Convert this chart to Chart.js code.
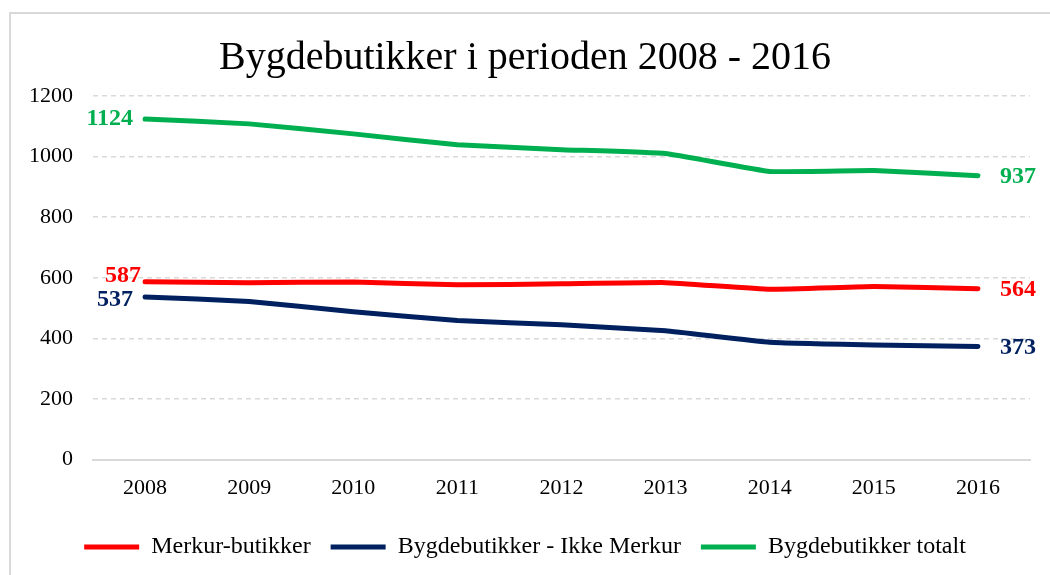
<!DOCTYPE html>
<html>
<head>
<meta charset="utf-8">
<script src="https://cdn.jsdelivr.net/npm/chart.js@4.4.1/dist/chart.umd.min.js"></script>
<style>
  body { margin: 0; background: #fff; }
  #wrap { position: relative; width: 1050px; height: 575px; overflow: hidden; }
  #frame { position: absolute; left: 9px; top: 12px; width: 1100px; height: 600px;
           border-top: 2px solid #d9d9d9; border-left: 2px solid #d9d9d9; pointer-events: none; }
</style>
</head>
<body>
<div id="wrap">
  <canvas id="chart" width="1050" height="575"></canvas>
  <div id="frame"></div>
</div>
<script>
// Données
const years = ['2008', '2009', '2010', '2011', '2012', '2013', '2014', '2015', '2016'];
const merkur = [587, 584, 586, 577, 580, 584, 562, 571, 564];
const ikkeMerkur = [537, 522, 488, 459, 445, 425, 387, 378, 373];
const totalt = [1124, 1108, 1075, 1039, 1023, 1010, 951, 954, 937];
const yTicks = [0, 200, 400, 600, 800, 1000, 1200];

const serif = "'Liberation Serif', 'DejaVu Serif', serif";

// Étiquettes de valeur au début et à la fin de chaque série
const endLabels = {
    id: 'endLabels',
    afterDatasetsDraw(chart, args, opts) {
        const ctx = chart.ctx;
        ctx.save();
        ctx.font = 'bold 24px ' + serif;
        ctx.textBaseline = 'middle';
        chart.data.datasets.forEach((ds, i) => {
            const pts = chart.getDatasetMeta(i).data;
            const off = opts.offsets[i];
            const first = pts[0], last = pts[pts.length - 1];
            ctx.fillStyle = ds.borderColor;
            ctx.textAlign = 'right';
            ctx.fillText(ds.data[0], first.x + off[0], first.y + off[1]);
            ctx.textAlign = 'left';
            ctx.fillText(ds.data[ds.data.length - 1], last.x + off[2], last.y + off[3]);
        });
        ctx.restore();
    }
};

const lineStyle = color => ({
    borderColor: color,
    backgroundColor: color,
    borderWidth: 5,
    borderCapStyle: 'round',
    borderJoinStyle: 'round',
    pointRadius: 0,
    pointHoverRadius: 0,
    tension: 0.1,
    fill: false
});

document.addEventListener("DOMContentLoaded", function () {
    const ctx = document.getElementById('chart').getContext('2d');
    new Chart(ctx, {
        type: 'line',
        data: {
            labels: years,
            datasets: [
                Object.assign({ label: 'Merkur-butikker', data: merkur }, lineStyle('#ff0000')),
                Object.assign({ label: 'Bygdebutikker - Ikke Merkur', data: ikkeMerkur }, lineStyle('#002060')),
                Object.assign({ label: 'Bygdebutikker totalt', data: totalt }, lineStyle('#00b050'))
            ]
        },
        plugins: [endLabels],
        options: {
            responsive: false,
            animation: false,
            layout: { padding: { left: 20, right: 20, top: 0, bottom: 6 } },
            plugins: {
                title: {
                    display: true,
                    text: 'Bygdebutikker i perioden 2008 - 2016',
                    color: '#000',
                    font: { family: serif, size: 40, weight: 'normal' },
                    padding: { top: 34, bottom: 14 }
                },
                legend: {
                    position: 'bottom',
                    labels: {
                        color: '#000',
                        font: { family: serif, size: 24 },
                        usePointStyle: true,
                        pointStyleWidth: 55,
                        pointStyle: 'line',
                        padding: 20
                    }
                },
                tooltip: { enabled: false },
                endLabels: {
                    offsets: [
                        [-4, -6, 22, 1],
                        [-12, 3, 22, 1],
                        [-12, 0, 22, 1]
                    ]
                }
            },
            scales: {
                x: {
                    offset: true,
                    afterFit: scale => { scale.height += 7; },
                    grid: { display: false },
                    border: { display: true, color: '#d9d9d9', width: 2 },
                    ticks: { color: '#000', font: { family: serif, size: 22 }, padding: 7 }
                },
                y: {
                    min: 0,
                    max: 1200,
                    afterFit: scale => { scale.width = 73; },
                    afterBuildTicks: scale => { scale.ticks = yTicks.map(v => ({ value: v })); },
                    grid: {
                        color: ctx => ctx.tick && ctx.tick.value === 0 ? 'rgba(0,0,0,0)' : '#d9d9d9',
                        lineWidth: 1.5,
                        drawTicks: false
                    },
                    border: { display: false, dash: [5, 4] },
                    ticks: {
                        color: '#000',
                        font: { family: serif, size: 22 },
                        padding: 20,
                        callback: v => String(v)
                    }
                }
            }
        }
    });
});
</script>
</body>
</html>
